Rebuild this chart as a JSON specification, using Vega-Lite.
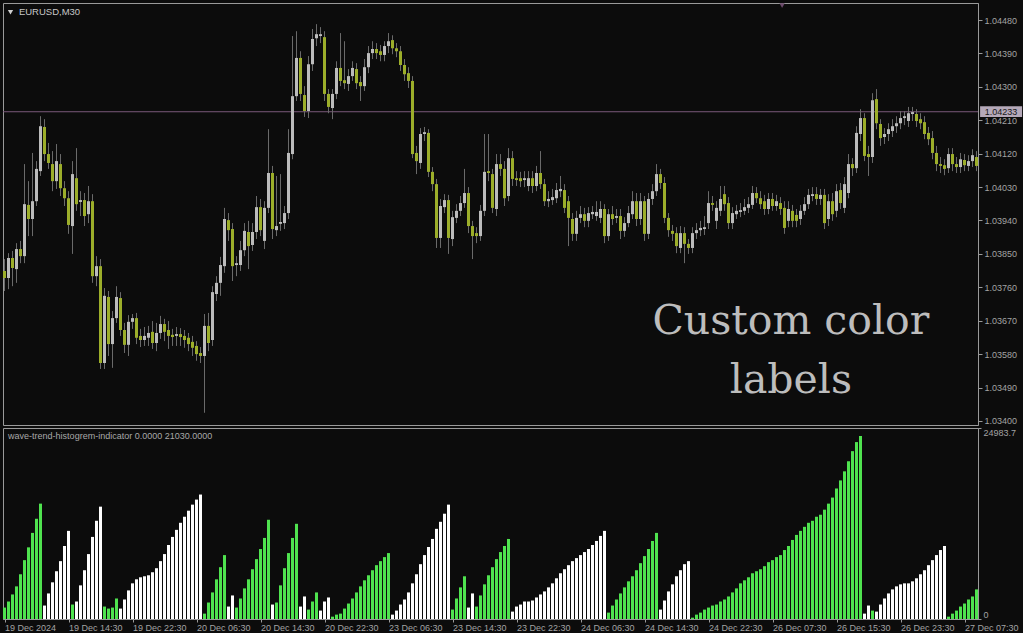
{
"$schema": "https://vega.github.io/schema/vega-lite/v6.json",
"background": "#0c0c0c",
"padding": {"left": 2, "top": 2, "right": 0, "bottom": 0},
"spacing": 3,
"bounds": "flush",
"config": {
  "view": {"stroke": "#9a9a9a", "strokeWidth": 1},
  "font": "Liberation Sans",
  "scale": {"continuousPadding": 0},
  "axis": {"grid": false, "labelFont": "Liberation Sans", "labelFontSize": 9, "labelColor": "#a3a3a3", "tickColor": "#9a9a9a", "domainColor": "#9a9a9a", "tickSize": 4, "labelPadding": 2}
},
"data": {"values": [
{"i":0,"o":1.03804,"c":1.03785,"h":1.03836,"l":1.03750,"v":1496,"g":"G"},
{"i":1,"o":1.03785,"c":1.03839,"h":1.03852,"l":1.03755,"v":2288,"g":"G"},
{"i":2,"o":1.03839,"c":1.03812,"h":1.03858,"l":1.03763,"v":3212,"g":"G"},
{"i":3,"o":1.03809,"c":1.03863,"h":1.03879,"l":1.03772,"v":4268,"g":"G"},
{"i":4,"o":1.03863,"c":1.03844,"h":1.03885,"l":1.03825,"v":5852,"g":"G"},
{"i":5,"o":1.03844,"c":1.03984,"h":1.04092,"l":1.03825,"v":7700,"g":"G"},
{"i":6,"o":1.03982,"c":1.03944,"h":1.04046,"l":1.03898,"v":9372,"g":"G"},
{"i":7,"o":1.03944,"c":1.03992,"h":1.04122,"l":1.03898,"v":11264,"g":"G"},
{"i":8,"o":1.03992,"c":1.04079,"h":1.04100,"l":1.03979,"v":13112,"g":"G"},
{"i":9,"o":1.04073,"c":1.04194,"h":1.04221,"l":1.04060,"v":15092,"g":"G"},
{"i":10,"o":1.04192,"c":1.04119,"h":1.04213,"l":1.04100,"v":1760,"g":"W"},
{"i":11,"o":1.04119,"c":1.04095,"h":1.04149,"l":1.04079,"v":3344,"g":"W"},
{"i":12,"o":1.04092,"c":1.04046,"h":1.04127,"l":1.04019,"v":4796,"g":"W"},
{"i":13,"o":1.04046,"c":1.04100,"h":1.04146,"l":1.04025,"v":6248,"g":"W"},
{"i":14,"o":1.04092,"c":1.04027,"h":1.04119,"l":1.04006,"v":7568,"g":"W"},
{"i":15,"o":1.04027,"c":1.04000,"h":1.04046,"l":1.03979,"v":9548,"g":"W"},
{"i":16,"o":1.04000,"c":1.03928,"h":1.04019,"l":1.03904,"v":11528,"g":"W"},
{"i":17,"o":1.03925,"c":1.04065,"h":1.04100,"l":1.03850,"v":1892,"g":"G"},
{"i":18,"o":1.04054,"c":1.03984,"h":1.04135,"l":1.03966,"v":2288,"g":"W"},
{"i":19,"o":1.03990,"c":1.03995,"h":1.04019,"l":1.03952,"v":4400,"g":"W"},
{"i":20,"o":1.03995,"c":1.03952,"h":1.04014,"l":1.03925,"v":6380,"g":"W"},
{"i":21,"o":1.03957,"c":1.03992,"h":1.04033,"l":1.03933,"v":8492,"g":"W"},
{"i":22,"o":1.03992,"c":1.03790,"h":1.04011,"l":1.03772,"v":10736,"g":"W"},
{"i":23,"o":1.03790,"c":1.03817,"h":1.03844,"l":1.03763,"v":12848,"g":"W"},
{"i":24,"o":1.03817,"c":1.03556,"h":1.03836,"l":1.03540,"v":14696,"g":"W"},
{"i":25,"o":1.03556,"c":1.03737,"h":1.03758,"l":1.03540,"v":1628,"g":"G"},
{"i":26,"o":1.03734,"c":1.03607,"h":1.03750,"l":1.03575,"v":1364,"g":"G"},
{"i":27,"o":1.03607,"c":1.03677,"h":1.03696,"l":1.03543,"v":1496,"g":"G"},
{"i":28,"o":1.03677,"c":1.03734,"h":1.03763,"l":1.03664,"v":2684,"g":"G"},
{"i":29,"o":1.03731,"c":1.03645,"h":1.03747,"l":1.03629,"v":1364,"g":"W"},
{"i":30,"o":1.03645,"c":1.03605,"h":1.03664,"l":1.03583,"v":2552,"g":"W"},
{"i":31,"o":1.03605,"c":1.03667,"h":1.03685,"l":1.03575,"v":3740,"g":"W"},
{"i":32,"o":1.03667,"c":1.03677,"h":1.03688,"l":1.03648,"v":4664,"g":"W"},
{"i":33,"o":1.03677,"c":1.03624,"h":1.03691,"l":1.03607,"v":5192,"g":"W"},
{"i":34,"o":1.03629,"c":1.03618,"h":1.03648,"l":1.03599,"v":5456,"g":"W"},
{"i":35,"o":1.03618,"c":1.03629,"h":1.03653,"l":1.03602,"v":5588,"g":"W"},
{"i":36,"o":1.03624,"c":1.03637,"h":1.03656,"l":1.03602,"v":5720,"g":"W"},
{"i":37,"o":1.03640,"c":1.03610,"h":1.03669,"l":1.03594,"v":6116,"g":"W"},
{"i":38,"o":1.03610,"c":1.03637,"h":1.03664,"l":1.03588,"v":6644,"g":"W"},
{"i":39,"o":1.03637,"c":1.03661,"h":1.03683,"l":1.03621,"v":7568,"g":"W"},
{"i":40,"o":1.03661,"c":1.03640,"h":1.03675,"l":1.03615,"v":8492,"g":"W"},
{"i":41,"o":1.03645,"c":1.03629,"h":1.03669,"l":1.03594,"v":9680,"g":"W"},
{"i":42,"o":1.03632,"c":1.03626,"h":1.03648,"l":1.03602,"v":10736,"g":"W"},
{"i":43,"o":1.03629,"c":1.03634,"h":1.03653,"l":1.03602,"v":11660,"g":"W"},
{"i":44,"o":1.03634,"c":1.03626,"h":1.03650,"l":1.03602,"v":12584,"g":"W"},
{"i":45,"o":1.03629,"c":1.03618,"h":1.03645,"l":1.03597,"v":13376,"g":"W"},
{"i":46,"o":1.03624,"c":1.03607,"h":1.03637,"l":1.03588,"v":14168,"g":"W"},
{"i":47,"o":1.03613,"c":1.03597,"h":1.03629,"l":1.03575,"v":14960,"g":"W"},
{"i":48,"o":1.03602,"c":1.03580,"h":1.03615,"l":1.03562,"v":15620,"g":"W"},
{"i":49,"o":1.03583,"c":1.03575,"h":1.03599,"l":1.03556,"v":16280,"g":"W"},
{"i":50,"o":1.03575,"c":1.03656,"h":1.03688,"l":1.03422,"v":704,"g":"G"},
{"i":51,"o":1.03656,"c":1.03610,"h":1.03691,"l":1.03588,"v":2156,"g":"G"},
{"i":52,"o":1.03618,"c":1.03747,"h":1.03763,"l":1.03602,"v":3476,"g":"G"},
{"i":53,"o":1.03742,"c":1.03772,"h":1.03790,"l":1.03723,"v":5192,"g":"G"},
{"i":54,"o":1.03772,"c":1.03820,"h":1.03842,"l":1.03737,"v":6776,"g":"G"},
{"i":55,"o":1.03817,"c":1.03944,"h":1.03974,"l":1.03799,"v":8360,"g":"G"},
{"i":56,"o":1.03941,"c":1.03914,"h":1.03960,"l":1.03885,"v":1628,"g":"W"},
{"i":57,"o":1.03917,"c":1.03817,"h":1.03933,"l":1.03777,"v":3080,"g":"W"},
{"i":58,"o":1.03820,"c":1.03825,"h":1.03844,"l":1.03790,"v":1496,"g":"G"},
{"i":59,"o":1.03820,"c":1.03860,"h":1.03885,"l":1.03804,"v":2684,"g":"G"},
{"i":60,"o":1.03860,"c":1.03912,"h":1.03933,"l":1.03844,"v":4004,"g":"G"},
{"i":61,"o":1.03909,"c":1.03871,"h":1.03939,"l":1.03809,"v":5192,"g":"G"},
{"i":62,"o":1.03874,"c":1.03909,"h":1.03933,"l":1.03858,"v":6512,"g":"G"},
{"i":63,"o":1.03909,"c":1.03976,"h":1.04006,"l":1.03890,"v":7832,"g":"G"},
{"i":64,"o":1.03976,"c":1.03914,"h":1.03998,"l":1.03898,"v":9152,"g":"G"},
{"i":65,"o":1.03885,"c":1.03974,"h":1.03992,"l":1.03863,"v":10604,"g":"G"},
{"i":66,"o":1.03974,"c":1.04068,"h":1.04186,"l":1.03960,"v":12980,"g":"G"},
{"i":67,"o":1.04068,"c":1.03917,"h":1.04087,"l":1.03890,"v":1892,"g":"W"},
{"i":68,"o":1.03914,"c":1.03925,"h":1.04060,"l":1.03898,"v":2156,"g":"G"},
{"i":69,"o":1.03931,"c":1.03936,"h":1.04065,"l":1.03912,"v":4400,"g":"G"},
{"i":70,"o":1.03933,"c":1.03960,"h":1.03979,"l":1.03917,"v":6644,"g":"G"},
{"i":71,"o":1.03960,"c":1.04122,"h":1.04186,"l":1.03944,"v":8624,"g":"G"},
{"i":72,"o":1.04119,"c":1.04275,"h":1.04437,"l":1.04105,"v":10604,"g":"G"},
{"i":73,"o":1.04275,"c":1.04378,"h":1.04450,"l":1.04262,"v":12452,"g":"G"},
{"i":74,"o":1.04378,"c":1.04281,"h":1.04396,"l":1.04262,"v":1628,"g":"W"},
{"i":75,"o":1.04278,"c":1.04235,"h":1.04302,"l":1.04219,"v":2948,"g":"W"},
{"i":76,"o":1.04235,"c":1.04361,"h":1.04383,"l":1.04216,"v":1232,"g":"G"},
{"i":77,"o":1.04361,"c":1.04429,"h":1.04456,"l":1.04343,"v":2288,"g":"G"},
{"i":78,"o":1.04431,"c":1.04442,"h":1.04469,"l":1.04410,"v":3476,"g":"G"},
{"i":79,"o":1.04437,"c":1.04442,"h":1.04461,"l":1.04418,"v":1100,"g":"W"},
{"i":80,"o":1.04434,"c":1.04281,"h":1.04450,"l":1.04262,"v":2288,"g":"W"},
{"i":81,"o":1.04281,"c":1.04246,"h":1.04294,"l":1.04229,"v":2816,"g":"W"},
{"i":82,"o":1.04243,"c":1.04281,"h":1.04294,"l":1.04213,"v":308,"g":"G"},
{"i":83,"o":1.04281,"c":1.04351,"h":1.04369,"l":1.04267,"v":572,"g":"G"},
{"i":84,"o":1.04351,"c":1.04316,"h":1.04445,"l":1.04302,"v":704,"g":"G"},
{"i":85,"o":1.04318,"c":1.04310,"h":1.04423,"l":1.04294,"v":1364,"g":"G"},
{"i":86,"o":1.04308,"c":1.04329,"h":1.04348,"l":1.04289,"v":2024,"g":"G"},
{"i":87,"o":1.04329,"c":1.04351,"h":1.04369,"l":1.04316,"v":2684,"g":"G"},
{"i":88,"o":1.04348,"c":1.04310,"h":1.04364,"l":1.04294,"v":3476,"g":"G"},
{"i":89,"o":1.04313,"c":1.04302,"h":1.04329,"l":1.04262,"v":4268,"g":"G"},
{"i":90,"o":1.04302,"c":1.04353,"h":1.04375,"l":1.04289,"v":5060,"g":"G"},
{"i":91,"o":1.04353,"c":1.04391,"h":1.04410,"l":1.04337,"v":5720,"g":"G"},
{"i":92,"o":1.04391,"c":1.04402,"h":1.04423,"l":1.04375,"v":6380,"g":"G"},
{"i":93,"o":1.04402,"c":1.04391,"h":1.04418,"l":1.04375,"v":7040,"g":"G"},
{"i":94,"o":1.04396,"c":1.04386,"h":1.04413,"l":1.04369,"v":7568,"g":"G"},
{"i":95,"o":1.04386,"c":1.04410,"h":1.04423,"l":1.04369,"v":8096,"g":"G"},
{"i":96,"o":1.04410,"c":1.04423,"h":1.04445,"l":1.04391,"v":8624,"g":"G"},
{"i":97,"o":1.04426,"c":1.04404,"h":1.04439,"l":1.04388,"v":572,"g":"W"},
{"i":98,"o":1.04404,"c":1.04396,"h":1.04418,"l":1.04380,"v":1100,"g":"W"},
{"i":99,"o":1.04396,"c":1.04359,"h":1.04410,"l":1.04343,"v":1892,"g":"W"},
{"i":100,"o":1.04359,"c":1.04334,"h":1.04375,"l":1.04316,"v":2552,"g":"W"},
{"i":101,"o":1.04337,"c":1.04316,"h":1.04353,"l":1.04297,"v":3476,"g":"W"},
{"i":102,"o":1.04316,"c":1.04119,"h":1.04329,"l":1.04108,"v":4664,"g":"W"},
{"i":103,"o":1.04122,"c":1.04100,"h":1.04141,"l":1.04065,"v":5852,"g":"W"},
{"i":104,"o":1.04095,"c":1.04173,"h":1.04189,"l":1.04079,"v":7172,"g":"W"},
{"i":105,"o":1.04173,"c":1.04178,"h":1.04192,"l":1.04154,"v":8360,"g":"W"},
{"i":106,"o":1.04176,"c":1.04071,"h":1.04186,"l":1.04057,"v":9416,"g":"W"},
{"i":107,"o":1.04071,"c":1.04038,"h":1.04084,"l":1.04019,"v":10472,"g":"W"},
{"i":108,"o":1.04038,"c":1.03893,"h":1.04052,"l":1.03866,"v":11792,"g":"W"},
{"i":109,"o":1.03893,"c":1.03979,"h":1.03998,"l":1.03866,"v":12716,"g":"W"},
{"i":110,"o":1.03976,"c":1.03995,"h":1.04011,"l":1.03960,"v":13772,"g":"W"},
{"i":111,"o":1.03995,"c":1.03893,"h":1.04009,"l":1.03850,"v":14960,"g":"W"},
{"i":112,"o":1.03890,"c":1.03949,"h":1.03966,"l":1.03871,"v":1232,"g":"G"},
{"i":113,"o":1.03947,"c":1.03966,"h":1.03984,"l":1.03933,"v":2684,"g":"G"},
{"i":114,"o":1.03966,"c":1.03987,"h":1.04006,"l":1.03952,"v":4136,"g":"G"},
{"i":115,"o":1.03987,"c":1.04014,"h":1.04079,"l":1.03974,"v":5588,"g":"G"},
{"i":116,"o":1.04014,"c":1.03925,"h":1.04030,"l":1.03906,"v":1496,"g":"W"},
{"i":117,"o":1.03925,"c":1.03898,"h":1.03939,"l":1.03836,"v":3344,"g":"W"},
{"i":118,"o":1.03906,"c":1.03898,"h":1.03922,"l":1.03879,"v":1628,"g":"G"},
{"i":119,"o":1.03898,"c":1.03966,"h":1.03982,"l":1.03885,"v":3080,"g":"G"},
{"i":120,"o":1.03966,"c":1.04071,"h":1.04173,"l":1.03952,"v":4532,"g":"G"},
{"i":121,"o":1.04073,"c":1.04068,"h":1.04173,"l":1.04046,"v":5720,"g":"G"},
{"i":122,"o":1.04065,"c":1.03974,"h":1.04079,"l":1.03960,"v":6776,"g":"G"},
{"i":123,"o":1.03971,"c":1.04092,"h":1.04119,"l":1.03952,"v":7832,"g":"G"},
{"i":124,"o":1.04092,"c":1.04079,"h":1.04119,"l":1.04060,"v":8756,"g":"G"},
{"i":125,"o":1.04079,"c":1.04000,"h":1.04100,"l":1.03979,"v":9548,"g":"G"},
{"i":126,"o":1.04006,"c":1.04108,"h":1.04135,"l":1.03992,"v":10472,"g":"G"},
{"i":127,"o":1.04108,"c":1.04052,"h":1.04127,"l":1.04033,"v":968,"g":"W"},
{"i":128,"o":1.04054,"c":1.04049,"h":1.04073,"l":1.04033,"v":1628,"g":"W"},
{"i":129,"o":1.04054,"c":1.04046,"h":1.04071,"l":1.04030,"v":1892,"g":"W"},
{"i":130,"o":1.04049,"c":1.04054,"h":1.04073,"l":1.04030,"v":2288,"g":"W"},
{"i":131,"o":1.04033,"c":1.04054,"h":1.04073,"l":1.04019,"v":2288,"g":"W"},
{"i":132,"o":1.04054,"c":1.04033,"h":1.04073,"l":1.04014,"v":2420,"g":"W"},
{"i":133,"o":1.04033,"c":1.04068,"h":1.04087,"l":1.04019,"v":2816,"g":"W"},
{"i":134,"o":1.04068,"c":1.04038,"h":1.04127,"l":1.04025,"v":3212,"g":"W"},
{"i":135,"o":1.04038,"c":1.03992,"h":1.04052,"l":1.03979,"v":3608,"g":"W"},
{"i":136,"o":1.03992,"c":1.03998,"h":1.04019,"l":1.03976,"v":4136,"g":"W"},
{"i":137,"o":1.03995,"c":1.04003,"h":1.04025,"l":1.03982,"v":4664,"g":"W"},
{"i":138,"o":1.04000,"c":1.04022,"h":1.04041,"l":1.03987,"v":5324,"g":"W"},
{"i":139,"o":1.04019,"c":1.04025,"h":1.04060,"l":1.04003,"v":5984,"g":"W"},
{"i":140,"o":1.04022,"c":1.03974,"h":1.04038,"l":1.03960,"v":6512,"g":"W"},
{"i":141,"o":1.03992,"c":1.03947,"h":1.04006,"l":1.03871,"v":7040,"g":"W"},
{"i":142,"o":1.03944,"c":1.03904,"h":1.03960,"l":1.03885,"v":7568,"g":"W"},
{"i":143,"o":1.03904,"c":1.03947,"h":1.03966,"l":1.03885,"v":7964,"g":"W"},
{"i":144,"o":1.03947,"c":1.03957,"h":1.03979,"l":1.03933,"v":8360,"g":"W"},
{"i":145,"o":1.03957,"c":1.03939,"h":1.03974,"l":1.03922,"v":8756,"g":"W"},
{"i":146,"o":1.03939,"c":1.03960,"h":1.03976,"l":1.03922,"v":9152,"g":"W"},
{"i":147,"o":1.03957,"c":1.03963,"h":1.03979,"l":1.03944,"v":9680,"g":"W"},
{"i":148,"o":1.03952,"c":1.03963,"h":1.03992,"l":1.03939,"v":10208,"g":"W"},
{"i":149,"o":1.03947,"c":1.03971,"h":1.03992,"l":1.03933,"v":10868,"g":"W"},
{"i":150,"o":1.03971,"c":1.03898,"h":1.03984,"l":1.03879,"v":11528,"g":"W"},
{"i":151,"o":1.03898,"c":1.03957,"h":1.03971,"l":1.03885,"v":836,"g":"G"},
{"i":152,"o":1.03957,"c":1.03944,"h":1.03979,"l":1.03928,"v":1760,"g":"G"},
{"i":153,"o":1.03947,"c":1.03952,"h":1.03971,"l":1.03933,"v":2552,"g":"G"},
{"i":154,"o":1.03952,"c":1.03912,"h":1.03971,"l":1.03890,"v":3344,"g":"G"},
{"i":155,"o":1.03912,"c":1.03933,"h":1.03949,"l":1.03896,"v":4136,"g":"G"},
{"i":156,"o":1.03933,"c":1.03960,"h":1.03979,"l":1.03922,"v":4928,"g":"G"},
{"i":157,"o":1.03957,"c":1.03992,"h":1.04019,"l":1.03944,"v":5588,"g":"G"},
{"i":158,"o":1.03992,"c":1.03944,"h":1.04014,"l":1.03925,"v":6380,"g":"G"},
{"i":159,"o":1.03944,"c":1.03992,"h":1.04014,"l":1.03928,"v":7304,"g":"G"},
{"i":160,"o":1.03992,"c":1.03904,"h":1.04006,"l":1.03885,"v":8228,"g":"G"},
{"i":161,"o":1.03904,"c":1.03998,"h":1.04014,"l":1.03890,"v":9152,"g":"G"},
{"i":162,"o":1.03998,"c":1.04019,"h":1.04038,"l":1.03982,"v":10208,"g":"G"},
{"i":163,"o":1.04019,"c":1.04065,"h":1.04092,"l":1.04006,"v":11264,"g":"G"},
{"i":164,"o":1.04065,"c":1.04041,"h":1.04079,"l":1.04025,"v":1232,"g":"W"},
{"i":165,"o":1.04041,"c":1.03947,"h":1.04057,"l":1.03933,"v":2420,"g":"W"},
{"i":166,"o":1.03947,"c":1.03914,"h":1.03960,"l":1.03896,"v":3608,"g":"W"},
{"i":167,"o":1.03912,"c":1.03904,"h":1.03928,"l":1.03885,"v":4532,"g":"W"},
{"i":168,"o":1.03906,"c":1.03871,"h":1.03922,"l":1.03852,"v":5588,"g":"W"},
{"i":169,"o":1.03866,"c":1.03906,"h":1.03925,"l":1.03852,"v":6380,"g":"W"},
{"i":170,"o":1.03906,"c":1.03877,"h":1.03922,"l":1.03825,"v":7172,"g":"W"},
{"i":171,"o":1.03877,"c":1.03866,"h":1.03890,"l":1.03850,"v":7568,"g":"W"},
{"i":172,"o":1.03866,"c":1.03906,"h":1.03922,"l":1.03852,"v":176,"g":"G"},
{"i":173,"o":1.03906,"c":1.03914,"h":1.03933,"l":1.03890,"v":572,"g":"G"},
{"i":174,"o":1.03914,"c":1.03920,"h":1.03939,"l":1.03898,"v":836,"g":"G"},
{"i":175,"o":1.03917,"c":1.03922,"h":1.03952,"l":1.03901,"v":1232,"g":"G"},
{"i":176,"o":1.03933,"c":1.03987,"h":1.04019,"l":1.03917,"v":1496,"g":"G"},
{"i":177,"o":1.03987,"c":1.03982,"h":1.04006,"l":1.03966,"v":1760,"g":"G"},
{"i":178,"o":1.03939,"c":1.03974,"h":1.03992,"l":1.03917,"v":1892,"g":"G"},
{"i":179,"o":1.03966,"c":1.03998,"h":1.04033,"l":1.03952,"v":2288,"g":"G"},
{"i":180,"o":1.04011,"c":1.03984,"h":1.04033,"l":1.03966,"v":2552,"g":"G"},
{"i":181,"o":1.03987,"c":1.03933,"h":1.04003,"l":1.03917,"v":2948,"g":"G"},
{"i":182,"o":1.03933,"c":1.03960,"h":1.03976,"l":1.03917,"v":3476,"g":"G"},
{"i":183,"o":1.03957,"c":1.03966,"h":1.03982,"l":1.03944,"v":4004,"g":"G"},
{"i":184,"o":1.03963,"c":1.03968,"h":1.03987,"l":1.03949,"v":4664,"g":"G"},
{"i":185,"o":1.03966,"c":1.03976,"h":1.03998,"l":1.03955,"v":5060,"g":"G"},
{"i":186,"o":1.03974,"c":1.03984,"h":1.04003,"l":1.03960,"v":5456,"g":"G"},
{"i":187,"o":1.03982,"c":1.04014,"h":1.04033,"l":1.03971,"v":5984,"g":"G"},
{"i":188,"o":1.04014,"c":1.04000,"h":1.04030,"l":1.03987,"v":6248,"g":"G"},
{"i":189,"o":1.04000,"c":1.03984,"h":1.04019,"l":1.03971,"v":6512,"g":"G"},
{"i":190,"o":1.03992,"c":1.03971,"h":1.04009,"l":1.03955,"v":6908,"g":"G"},
{"i":191,"o":1.03971,"c":1.03998,"h":1.04014,"l":1.03957,"v":7436,"g":"G"},
{"i":192,"o":1.03998,"c":1.03979,"h":1.04014,"l":1.03966,"v":7700,"g":"G"},
{"i":193,"o":1.03979,"c":1.03992,"h":1.04009,"l":1.03966,"v":8096,"g":"G"},
{"i":194,"o":1.03987,"c":1.03971,"h":1.04003,"l":1.03955,"v":8360,"g":"G"},
{"i":195,"o":1.03974,"c":1.03920,"h":1.03992,"l":1.03904,"v":9020,"g":"G"},
{"i":196,"o":1.03939,"c":1.03971,"h":1.03992,"l":1.03922,"v":9548,"g":"G"},
{"i":197,"o":1.03966,"c":1.03939,"h":1.03982,"l":1.03922,"v":10340,"g":"G"},
{"i":198,"o":1.03955,"c":1.03939,"h":1.03971,"l":1.03922,"v":11000,"g":"G"},
{"i":199,"o":1.03944,"c":1.03966,"h":1.03982,"l":1.03928,"v":11528,"g":"G"},
{"i":200,"o":1.03966,"c":1.03984,"h":1.04003,"l":1.03955,"v":12056,"g":"G"},
{"i":201,"o":1.03984,"c":1.04009,"h":1.04025,"l":1.03971,"v":12584,"g":"G"},
{"i":202,"o":1.04006,"c":1.04011,"h":1.04030,"l":1.03992,"v":12848,"g":"G"},
{"i":203,"o":1.04011,"c":1.03998,"h":1.04030,"l":1.03982,"v":13376,"g":"G"},
{"i":204,"o":1.03998,"c":1.04009,"h":1.04025,"l":1.03982,"v":13640,"g":"G"},
{"i":205,"o":1.04009,"c":1.03933,"h":1.04025,"l":1.03917,"v":14300,"g":"G"},
{"i":206,"o":1.03944,"c":1.03992,"h":1.04011,"l":1.03925,"v":15092,"g":"G"},
{"i":207,"o":1.03992,"c":1.03957,"h":1.04014,"l":1.03939,"v":15884,"g":"G"},
{"i":208,"o":1.03966,"c":1.04019,"h":1.04038,"l":1.03949,"v":17072,"g":"G"},
{"i":209,"o":1.04022,"c":1.03987,"h":1.04041,"l":1.03971,"v":18128,"g":"G"},
{"i":210,"o":1.03974,"c":1.04038,"h":1.04057,"l":1.03960,"v":19316,"g":"G"},
{"i":211,"o":1.04014,"c":1.04092,"h":1.04119,"l":1.04000,"v":20636,"g":"G"},
{"i":212,"o":1.04092,"c":1.04081,"h":1.04108,"l":1.04060,"v":21956,"g":"G"},
{"i":213,"o":1.04081,"c":1.04176,"h":1.04194,"l":1.04068,"v":23144,"g":"G"},
{"i":214,"o":1.04173,"c":1.04216,"h":1.04240,"l":1.04154,"v":23936,"g":"G"},
{"i":215,"o":1.04216,"c":1.04114,"h":1.04229,"l":1.04100,"v":704,"g":"W"},
{"i":216,"o":1.04119,"c":1.04111,"h":1.04141,"l":1.04060,"v":1760,"g":"W"},
{"i":217,"o":1.04111,"c":1.04264,"h":1.04283,"l":1.04095,"v":1100,"g":"G"},
{"i":218,"o":1.04267,"c":1.04202,"h":1.04294,"l":1.04186,"v":968,"g":"W"},
{"i":219,"o":1.04200,"c":1.04162,"h":1.04213,"l":1.04141,"v":1892,"g":"W"},
{"i":220,"o":1.04165,"c":1.04173,"h":1.04189,"l":1.04146,"v":2684,"g":"W"},
{"i":221,"o":1.04173,"c":1.04186,"h":1.04202,"l":1.04154,"v":3344,"g":"W"},
{"i":222,"o":1.04181,"c":1.04194,"h":1.04213,"l":1.04165,"v":3872,"g":"W"},
{"i":223,"o":1.04194,"c":1.04202,"h":1.04221,"l":1.04176,"v":4268,"g":"W"},
{"i":224,"o":1.04202,"c":1.04216,"h":1.04235,"l":1.04186,"v":4532,"g":"W"},
{"i":225,"o":1.04216,"c":1.04221,"h":1.04235,"l":1.04197,"v":4664,"g":"W"},
{"i":226,"o":1.04208,"c":1.04229,"h":1.04246,"l":1.04192,"v":4664,"g":"W"},
{"i":227,"o":1.04227,"c":1.04232,"h":1.04246,"l":1.04208,"v":4928,"g":"W"},
{"i":228,"o":1.04227,"c":1.04208,"h":1.04240,"l":1.04192,"v":5324,"g":"W"},
{"i":229,"o":1.04213,"c":1.04202,"h":1.04229,"l":1.04186,"v":5852,"g":"W"},
{"i":230,"o":1.04205,"c":1.04173,"h":1.04221,"l":1.04159,"v":6380,"g":"W"},
{"i":231,"o":1.04176,"c":1.04159,"h":1.04192,"l":1.04143,"v":7040,"g":"W"},
{"i":232,"o":1.04162,"c":1.04122,"h":1.04181,"l":1.04105,"v":7700,"g":"W"},
{"i":233,"o":1.04122,"c":1.04092,"h":1.04141,"l":1.04073,"v":8360,"g":"W"},
{"i":234,"o":1.04092,"c":1.04087,"h":1.04111,"l":1.04068,"v":9020,"g":"W"},
{"i":235,"o":1.04089,"c":1.04079,"h":1.04105,"l":1.04062,"v":9548,"g":"W"},
{"i":236,"o":1.04081,"c":1.04119,"h":1.04135,"l":1.04068,"v":308,"g":"G"},
{"i":237,"o":1.04119,"c":1.04092,"h":1.04135,"l":1.04073,"v":704,"g":"G"},
{"i":238,"o":1.04092,"c":1.04084,"h":1.04111,"l":1.04068,"v":1100,"g":"G"},
{"i":239,"o":1.04084,"c":1.04105,"h":1.04122,"l":1.04068,"v":1628,"g":"G"},
{"i":240,"o":1.04103,"c":1.04089,"h":1.04119,"l":1.04073,"v":2024,"g":"G"},
{"i":241,"o":1.04087,"c":1.04100,"h":1.04116,"l":1.04073,"v":2552,"g":"G"},
{"i":242,"o":1.04100,"c":1.04116,"h":1.04132,"l":1.04084,"v":2948,"g":"G"},
{"i":243,"o":1.04111,"c":1.04087,"h":1.04127,"l":1.04073,"v":3872,"g":"G"}
]},
"vconcat": [
{
  "width": 975, "height": 422,
  "layer": [
    {"data": {"values": [{"p": 1.04233}]},
     "mark": {"type": "rule", "color": "#7a5a7a", "strokeWidth": 1},
     "encoding": {"y": {"field": "p", "type": "quantitative", "title": null, "scale": {"domain": [1.03389, 1.04526], "nice": false, "zero": false, "padding": 0},
       "axis": {"orient": "right", "values": [1.034, 1.0349, 1.0358, 1.0367, 1.0376, 1.0385, 1.0394, 1.0403, 1.0412, 1.0421, 1.043, 1.0439, 1.0448], "format": ".5f", "title": null}}}},
    {"mark": {"type": "rule", "color": "#6a6a6a", "strokeWidth": 1},
     "encoding": {
       "x": {"field": "i", "type": "quantitative", "title": null, "scale": {"domain": [-0.375, 243.375], "nice": false, "zero": false, "padding": 0}, "axis": null},
       "y": {"field": "l", "type": "quantitative", "title": null, "scale": {"domain": [1.03389, 1.04526], "nice": false, "zero": false, "padding": 0},
         "axis": {"orient": "right", "values": [1.034, 1.0349, 1.0358, 1.0367, 1.0376, 1.0385, 1.0394, 1.0403, 1.0412, 1.0421, 1.043, 1.0439, 1.0448], "format": ".5f", "title": null}},
       "y2": {"field": "h"}}},
    {"mark": {"type": "bar", "width": 3},
     "encoding": {
       "x": {"field": "i", "type": "quantitative", "title": null, "scale": {"domain": [-0.375, 243.375], "nice": false, "zero": false, "padding": 0}, "axis": null},
       "y": {"field": "o", "type": "quantitative", "title": null, "scale": {"domain": [1.03389, 1.04526], "nice": false, "zero": false, "padding": 0},
         "axis": {"orient": "right", "values": [1.034, 1.0349, 1.0358, 1.0367, 1.0376, 1.0385, 1.0394, 1.0403, 1.0412, 1.0421, 1.043, 1.0439, 1.0448], "format": ".5f", "title": null}},
       "y2": {"field": "c"},
       "color": {"condition": {"test": "datum.c >= datum.o", "value": "#bcbcbc"}, "value": "#9cae2a"}}},
    {"data": {"values": [{"i": 243.9, "i2": 254.4, "p": 1.04248, "p2": 1.04219}]},
     "mark": {"type": "rect", "color": "#b5a9b9"},
     "encoding": {
       "x": {"field": "i", "type": "quantitative", "title": null, "scale": {"domain": [-0.375, 243.375], "nice": false, "zero": false, "padding": 0}, "axis": null},
       "x2": {"field": "i2"},
       "y": {"field": "p", "type": "quantitative", "title": null, "scale": {"domain": [1.03389, 1.04526], "nice": false, "zero": false, "padding": 0},
         "axis": {"orient": "right", "values": [1.034, 1.0349, 1.0358, 1.0367, 1.0376, 1.0385, 1.0394, 1.0403, 1.0412, 1.0421, 1.043, 1.0439, 1.0448], "format": ".5f", "title": null}},
       "y2": {"field": "p2"}}},
    {"data": {"values": [{"i": 249.1, "p": 1.04233, "t": "1.04233"}]},
     "mark": {"type": "text", "color": "#161616", "fontSize": 9, "align": "center", "baseline": "middle", "font": "Liberation Sans"},
     "encoding": {
       "x": {"field": "i", "type": "quantitative", "title": null, "scale": {"domain": [-0.375, 243.375], "nice": false, "zero": false, "padding": 0}, "axis": null},
       "y": {"field": "p", "type": "quantitative", "title": null, "scale": {"domain": [1.03389, 1.04526], "nice": false, "zero": false, "padding": 0},
         "axis": {"orient": "right", "values": [1.034, 1.0349, 1.0358, 1.0367, 1.0376, 1.0385, 1.0394, 1.0403, 1.0412, 1.0421, 1.043, 1.0439, 1.0448], "format": ".5f", "title": null}},
       "text": {"field": "t"}}},
    {"data": {"values": [{"i": 194.4, "p": 1.04519}, {"i": 1.5, "p": 1.04501}]},
     "mark": {"type": "point", "filled": true, "shape": "triangle-down", "size": 28, "opacity": 1},
     "encoding": {
       "x": {"field": "i", "type": "quantitative", "title": null, "scale": {"domain": [-0.375, 243.375], "nice": false, "zero": false, "padding": 0}, "axis": null},
       "y": {"field": "p", "type": "quantitative", "title": null, "scale": {"domain": [1.03389, 1.04526], "nice": false, "zero": false, "padding": 0},
         "axis": {"orient": "right", "values": [1.034, 1.0349, 1.0358, 1.0367, 1.0376, 1.0385, 1.0394, 1.0403, 1.0412, 1.0421, 1.043, 1.0439, 1.0448], "format": ".5f", "title": null}},
       "color": {"condition": {"test": "datum.i > 100", "value": "#6b4a6b"}, "value": "#d0d0d0"}}},
    {"data": {"values": [{"i": 3.6, "p": 1.04503, "t": "EURUSD,M30"}]},
     "mark": {"type": "text", "color": "#c8c8c8", "fontSize": 9.5, "align": "left", "baseline": "middle", "font": "Liberation Sans"},
     "encoding": {
       "x": {"field": "i", "type": "quantitative", "title": null, "scale": {"domain": [-0.375, 243.375], "nice": false, "zero": false, "padding": 0}, "axis": null},
       "y": {"field": "p", "type": "quantitative", "title": null, "scale": {"domain": [1.03389, 1.04526], "nice": false, "zero": false, "padding": 0},
         "axis": {"orient": "right", "values": [1.034, 1.0349, 1.0358, 1.0367, 1.0376, 1.0385, 1.0394, 1.0403, 1.0412, 1.0421, 1.043, 1.0439, 1.0448], "format": ".5f", "title": null}},
       "text": {"field": "t"}}},
    {"data": {"values": [{"i": 196.6, "p": 1.03634, "t": "Custom color"}, {"i": 196.6, "p": 1.03475, "t": "labels"}]},
     "mark": {"type": "text", "color": "#bdbdbd", "fontSize": 41, "align": "center", "baseline": "alphabetic", "font": "DejaVu Serif"},
     "encoding": {
       "x": {"field": "i", "type": "quantitative", "title": null, "scale": {"domain": [-0.375, 243.375], "nice": false, "zero": false, "padding": 0}, "axis": null},
       "y": {"field": "p", "type": "quantitative", "title": null, "scale": {"domain": [1.03389, 1.04526], "nice": false, "zero": false, "padding": 0},
         "axis": {"orient": "right", "values": [1.034, 1.0349, 1.0358, 1.0367, 1.0376, 1.0385, 1.0394, 1.0403, 1.0412, 1.0421, 1.043, 1.0439, 1.0448], "format": ".5f", "title": null}},
       "text": {"field": "t"}}}
  ]
},
{
  "width": 975, "height": 191,
  "layer": [
    {"mark": {"type": "bar", "width": 3},
     "encoding": {
       "x": {"field": "i", "type": "quantitative", "title": null, "scale": {"domain": [-0.375, 243.375], "nice": false, "zero": false, "padding": 0},
         "axis": {"orient": "bottom", "values": [0, 16, 32, 48, 64, 80, 96, 112, 128, 144, 160, 176, 192, 208, 224, 240], "labelAlign": "left", "tickSize": 3, "labelPadding": 1, "labelOverlap": false, "labelBound": false, "labelFlush": false, "title": null,
           "labelExpr": "['19 Dec 2024','19 Dec 14:30','19 Dec 22:30','20 Dec 06:30','20 Dec 14:30','20 Dec 22:30','23 Dec 06:30','23 Dec 14:30','23 Dec 22:30','24 Dec 06:30','24 Dec 14:30','24 Dec 22:30','26 Dec 07:30','26 Dec 15:30','26 Dec 23:30','27 Dec 07:30'][round(datum.value / 16)]"}},
       "y": {"field": "v", "type": "quantitative", "title": null, "scale": {"domain": [0, 24983.7], "nice": false, "zero": true, "padding": 0},
         "axis": {"orient": "right", "values": [0, 24983.7], "labelFlush": true, "tickSize": 3, "title": null, "labelExpr": "datum.value > 0 ? '24983.7' : '0'"}},
       "color": {"field": "g", "type": "nominal", "legend": null, "scale": {"domain": ["G", "W"], "range": ["#4fe34f", "#ffffff"]}}}},
    {"data": {"values": [{"i": 0.9, "v": 23872, "t": "wave-trend-histogrem-indicator 0.0000 21030.0000"}]},
     "mark": {"type": "text", "color": "#a8a8a8", "fontSize": 9, "align": "left", "baseline": "middle", "font": "Liberation Sans"},
     "encoding": {
       "x": {"field": "i", "type": "quantitative", "title": null, "scale": {"domain": [-0.375, 243.375], "nice": false, "zero": false, "padding": 0},
         "axis": {"orient": "bottom", "values": [0, 16, 32, 48, 64, 80, 96, 112, 128, 144, 160, 176, 192, 208, 224, 240], "labelAlign": "left", "tickSize": 3, "labelPadding": 1, "labelOverlap": false, "labelBound": false, "labelFlush": false, "title": null,
           "labelExpr": "['19 Dec 2024','19 Dec 14:30','19 Dec 22:30','20 Dec 06:30','20 Dec 14:30','20 Dec 22:30','23 Dec 06:30','23 Dec 14:30','23 Dec 22:30','24 Dec 06:30','24 Dec 14:30','24 Dec 22:30','26 Dec 07:30','26 Dec 15:30','26 Dec 23:30','27 Dec 07:30'][round(datum.value / 16)]"}},
       "y": {"field": "v", "type": "quantitative", "title": null, "scale": {"domain": [0, 24983.7], "nice": false, "zero": true, "padding": 0},
         "axis": {"orient": "right", "values": [0, 24983.7], "labelFlush": true, "tickSize": 3, "title": null, "labelExpr": "datum.value > 0 ? '24983.7' : '0'"}},
       "text": {"field": "t"}}}
  ]
}
]
}
